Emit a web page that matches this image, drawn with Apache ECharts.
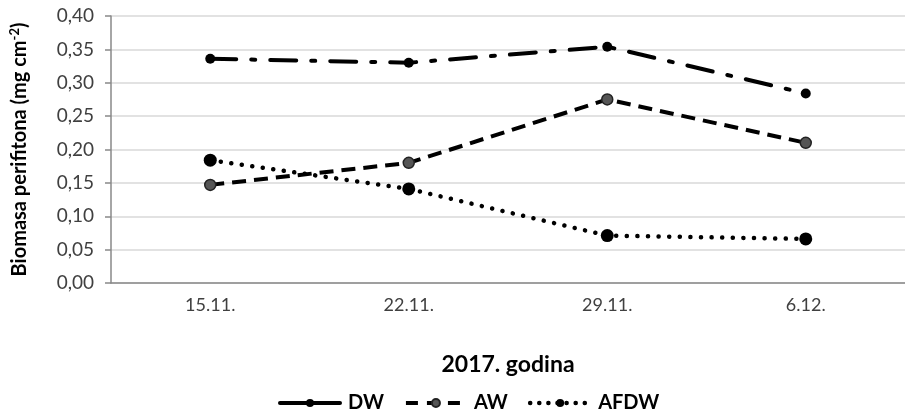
<!DOCTYPE html>
<html><head><meta charset="utf-8">
<script src="https://cdn.jsdelivr.net/npm/echarts@6/dist/echarts.min.js"></script>
<style>html,body{margin:0;padding:0;background:#fff}#c{width:905px;height:420px}</style>
</head><body><div id="c"></div>
<script>
var categories = ['15.11.', '22.11.', '29.11.', '6.12.'];
var dwValues = [0.336, 0.330, 0.354, 0.284];
var awValues = [0.147, 0.180, 0.275, 0.210];
var afdwValues = [0.184, 0.141, 0.071, 0.066];
var seriesNames = ['DW', 'AW', 'AFDW'];

var FONT = 'Lato';
var chart = echarts.init(document.getElementById('c'), null, {renderer: 'canvas'});
chart.setOption({
  animation: false,
  textStyle: {fontFamily: FONT},
  grid: {left: 110, right: -12, top: 16, bottom: 137, containLabel: false},
  legend: {
    bottom: 2, left: 273, itemWidth: 60, itemHeight: 10, itemGap: 20,
    textStyle: {fontFamily: FONT, fontSize: 20, fontWeight: 'bold', color: '#000', padding: [0, 0, 0, 3]},
    data: [
      {name: seriesNames[0], lineStyle: {type: 'solid', width: 4}},
      {name: seriesNames[1], lineStyle: {type: [12, 9], width: 4}},
      {name: seriesNames[2], lineStyle: {type: [0.1, 9], width: 4.5, cap: 'round'}}
    ]
  },
  xAxis: {
    type: 'category', data: categories, boundaryGap: true,
    name: '2017. godina', nameLocation: 'middle', nameGap: 70,
    nameTextStyle: {fontFamily: FONT, fontSize: 23, fontWeight: 'bold', color: '#000'},
    axisLine: {lineStyle: {color: '#898989', width: 1.5}},
    axisTick: {alignWithLabel: true, length: 5, lineStyle: {color: '#898989', width: 1.5}},
    axisLabel: {fontFamily: FONT, fontSize: 18, color: '#404040', margin: 13}
  },
  yAxis: {
    type: 'value', min: 0, max: 0.4, interval: 0.05,
    name: 'Biomasa perifitona (mg cm{s|-2})', nameLocation: 'middle', nameGap: 80, nameRotate: 90,
    nameTextStyle: {fontFamily: FONT, fontSize: 20, fontWeight: 'bold', color: '#000',
      rich: {s: {fontFamily: FONT, fontSize: 13, fontWeight: 'bold', color: '#000', verticalAlign: 'top', padding: [0, 0, 10, 0]}}},
    axisLine: {show: true, lineStyle: {color: '#898989', width: 1.5}},
    axisTick: {show: true, length: 6, lineStyle: {color: '#898989', width: 1.5}},
    splitLine: {lineStyle: {color: '#d9d9d9', width: 1.5}},
    axisLabel: {fontFamily: FONT, fontSize: 19, color: '#404040', margin: 17,
      formatter: function (v) { return v.toFixed(2).replace('.', ','); }}
  },
  series: [
    {name: seriesNames[0], type: 'line', data: dwValues, symbol: 'circle', symbolSize: 10,
      itemStyle: {color: '#000'},
      lineStyle: {color: '#000', width: 4, type: [26, 15, 4, 15], cap: 'round'}},
    {name: seriesNames[1], type: 'line', data: awValues, symbol: 'circle', symbolSize: 11,
      itemStyle: {color: '#555', borderColor: '#222', borderWidth: 1.5},
      lineStyle: {color: '#000', width: 4, type: [14, 8]}},
    {name: seriesNames[2], type: 'line', data: afdwValues, symbol: 'circle', symbolSize: 13,
      itemStyle: {color: '#000'},
      lineStyle: {color: '#000', width: 4.5, type: [0.1, 10.5], cap: 'round'}}
  ]
});
</script></body></html>
